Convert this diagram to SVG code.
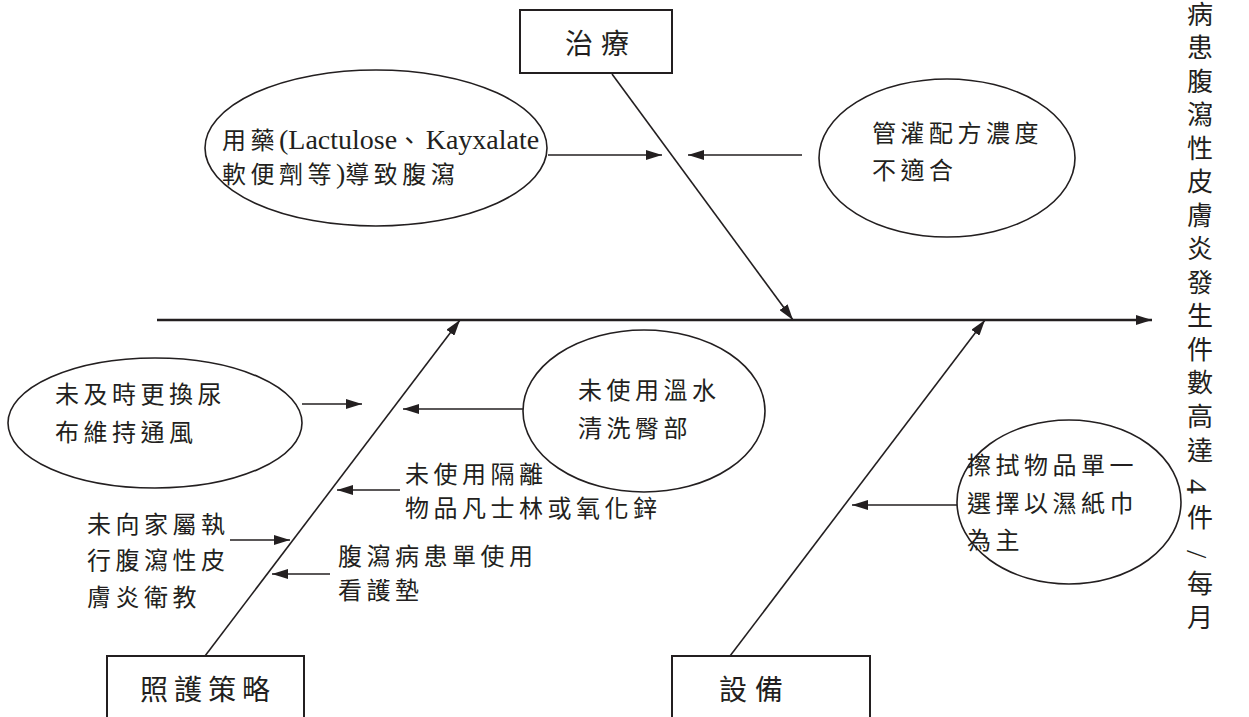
<svg xmlns="http://www.w3.org/2000/svg" width="1249" height="717" viewBox="0 0 1249 717">
<style>
text{font-family:"Liberation Serif","Noto Sans CJK TC","Noto Sans CJK JP",serif;fill:#231f20;font-size:24px;letter-spacing:4.5px}
.lat{font-size:28px;letter-spacing:0}
.box{fill:#fff;stroke:#231f20;stroke-width:2}
.ell{fill:#fff;stroke:#231f20;stroke-width:1.6}
.ln{stroke:#231f20;stroke-width:1.6;fill:none}
.spine{stroke:#231f20;stroke-width:2.5;fill:none}
.big{font-size:28px;letter-spacing:6px}
.vert{writing-mode:vertical-rl;font-size:26px;letter-spacing:7.5px}
</style>
<defs>
<marker id="ah" viewBox="0 0 16 10" refX="16" refY="5" markerWidth="16" markerHeight="10" markerUnits="userSpaceOnUse" orient="auto">
<path d="M0,0 L16,5 L0,10 z" fill="#231f20"/>
</marker>
</defs>
<rect width="1249" height="717" fill="#fff"/>
<g id="connectors">
<line class="spine" x1="157" y1="320" x2="1152" y2="320" marker-end="url(#ah)"/>
<line class="ln" x1="612" y1="74" x2="793" y2="320" marker-end="url(#ah)"/>
<line class="ln" x1="205" y1="656" x2="460" y2="320" marker-end="url(#ah)"/>
<line class="ln" x1="730" y1="656" x2="985" y2="320" marker-end="url(#ah)"/>
<line class="ln" x1="548" y1="155" x2="662" y2="155" marker-end="url(#ah)"/>
<line class="ln" x1="802" y1="155" x2="688" y2="155" marker-end="url(#ah)"/>
<line class="ln" x1="302" y1="404" x2="362" y2="404" marker-end="url(#ah)"/>
<line class="ln" x1="524" y1="409" x2="403" y2="409" marker-end="url(#ah)"/>
<line class="ln" x1="400" y1="490" x2="337" y2="490" marker-end="url(#ah)"/>
<line class="ln" x1="230" y1="540" x2="290" y2="540" marker-end="url(#ah)"/>
<line class="ln" x1="330" y1="574" x2="272" y2="574" marker-end="url(#ah)"/>
<line class="ln" x1="957" y1="505" x2="852" y2="505" marker-end="url(#ah)"/>
</g>
<g id="treatment">
<rect class="box" x="520" y="10" width="152" height="63"/>
<text x="565" y="54" class="big" style="letter-spacing:8px">治療</text>
</g>
<g id="care">
<rect class="box" x="107" y="656" width="197" height="70"/>
<text x="140" y="700" class="big">照護策略</text>
</g>
<g id="equipment">
<rect class="box" x="672" y="656" width="198" height="70"/>
<text x="719" y="700" class="big" style="letter-spacing:8px">設備</text>
</g>
<g id="c-medication">
<ellipse class="ell" cx="376" cy="148" rx="171" ry="78"/>
<text x="222" y="149">用藥<tspan class="lat">(Lactulose</tspan>、<tspan class="lat">Kayxalate</tspan></text>
<text x="222" y="183">軟便劑等<tspan class="lat">)</tspan>導致腹瀉</text>
</g>
<g id="c-formula">
<ellipse class="ell" cx="947" cy="158" rx="128" ry="79"/>
<text x="872" y="142">管灌配方濃度</text>
<text x="872" y="179">不適合</text>
</g>
<g id="c-diaper">
<ellipse class="ell" cx="155" cy="423" rx="147" ry="65"/>
<text x="55" y="403">未及時更換尿</text>
<text x="55" y="441">布維持通風</text>
</g>
<g id="c-water">
<ellipse class="ell" cx="644" cy="411" rx="121" ry="81"/>
<text x="578" y="399">未使用溫水</text>
<text x="578" y="437">清洗臀部</text>
</g>
<g id="c-barrier">
<text x="405" y="483">未使用隔離</text>
<text x="405" y="517">物品凡士林或氧化鋅</text>
</g>
<g id="c-education">
<text x="87" y="533">未向家屬執</text>
<text x="87" y="569">行腹瀉性皮</text>
<text x="87" y="606">膚炎衛教</text>
</g>
<g id="c-pad">
<text x="338" y="565">腹瀉病患單使用</text>
<text x="338" y="599">看護墊</text>
</g>
<g id="c-wipe">
<ellipse class="ell" cx="1069" cy="502" rx="112" ry="82"/>
<text x="967" y="474">擦拭物品單一</text>
<text x="967" y="512">選擇以濕紙巾</text>
<text x="967" y="549">為主</text>
</g>
<g id="effect">
<text x="1197" y="1" class="vert">病患腹瀉性皮膚炎發生件數高<tspan style="letter-spacing:16.5px">達</tspan><tspan style="letter-spacing:9.5px;font-size:30px">4</tspan><tspan style="letter-spacing:20px">件</tspan><tspan style="letter-spacing:12.7px;font-size:30px">/</tspan>每月</text>
</g>
</svg>
